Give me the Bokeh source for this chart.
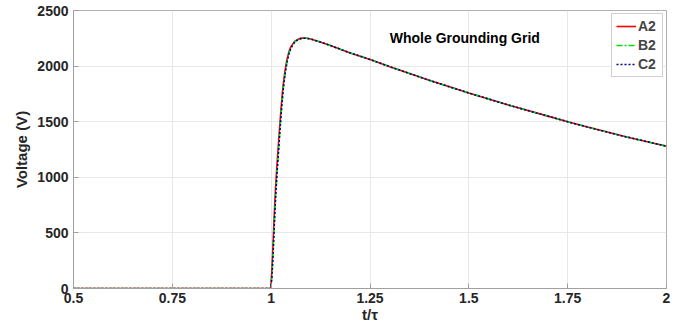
from bokeh.plotting import figure
from bokeh.models import FixedTicker, Label, Legend, LegendItem
from bokeh.embed import file_html
from bokeh.resources import INLINE

# Time (normalized t/tau)
t_vals = [0.5, 0.75, 0.999, 1.002, 1.005, 1.008, 1.011, 1.015, 1.02, 1.025, 1.03, 1.035,
          1.04, 1.045, 1.05, 1.06, 1.07, 1.08, 1.09, 1.1, 1.12, 1.15, 1.2, 1.25, 1.3, 1.4,
          1.5, 1.6, 1.7, 1.75, 1.8, 1.9, 2.0]
a2_vals = [0, 0, 0, 180, 420, 680, 900, 1130, 1380, 1620, 1820, 1960,
           2060, 2130, 2175, 2225, 2245, 2252, 2250, 2243, 2222, 2185, 2118, 2060, 1995, 1872,
           1758, 1650, 1550, 1500, 1452, 1362, 1280]
b2_vals = [0, 0, 0, 120, 340, 590, 820, 1060, 1320, 1570, 1780, 1930,
           2040, 2115, 2165, 2220, 2243, 2252, 2250, 2243, 2222, 2185, 2118, 2060, 1995, 1872,
           1758, 1650, 1550, 1500, 1452, 1362, 1280]
c2_vals = [0, 0, 0, 110, 330, 580, 810, 1050, 1310, 1560, 1775, 1925,
           2035, 2112, 2163, 2219, 2243, 2252, 2250, 2243, 2222, 2185, 2118, 2060, 1995, 1872,
           1758, 1650, 1550, 1500, 1452, 1362, 1280]

x_ticks = [0.5, 0.75, 1, 1.25, 1.5, 1.75, 2]
x_tick_labels = ["0.5", "0.75", "1", "1.25", "1.5", "1.75", "2"]
y_ticks = [0, 500, 1000, 1500, 2000, 2500]
series_names = ["A2", "B2", "C2"]
title_text = "Whole Grounding Grid"

FONT = "Liberation Sans"

p = figure(width=698, height=325, x_range=(0.5, 2), y_range=(0, 2500),
           output_backend="svg", toolbar_location=None,
           min_border_left=73, min_border_right=32, min_border_top=10, min_border_bottom=37)

p.background_fill_color = "white"
p.border_fill_color = "white"
p.outline_line_color = "#b0b0b0"
p.outline_line_width = 1

r1 = p.line(t_vals, a2_vals, line_color="#ff0000", line_width=1.6)
r2 = p.line(t_vals, b2_vals, line_color="#00e000", line_width=1.6, line_dash="6 2 2 2")
r3 = p.line(t_vals, c2_vals, line_color="#00008b", line_width=1.6, line_dash="2 2")

p.xaxis.ticker = FixedTicker(ticks=x_ticks)
p.xaxis.major_label_overrides = {k: v for k, v in zip(x_ticks, x_tick_labels)}
p.yaxis.ticker = FixedTicker(ticks=y_ticks)

for ax in [p.xaxis[0], p.yaxis[0]]:
    ax.axis_line_color = "#a0a0a0"
    ax.major_tick_line_color = "#a0a0a0"
    ax.major_tick_in = 5
    ax.major_tick_out = 0
    ax.minor_tick_line_color = None
    ax.major_label_text_font = FONT
    ax.major_label_text_font_style = "bold"
    ax.major_label_text_font_size = "14px"
    ax.major_label_text_color = "#262626"
    ax.axis_label_text_font = FONT
    ax.axis_label_text_font_style = "bold"
    ax.axis_label_text_font_size = "15px"
    ax.axis_label_text_color = "#262626"

p.xaxis.axis_label = "t/τ"
p.yaxis.axis_label = "Voltage (V)"
p.xaxis.major_label_standoff = 4
p.xaxis.axis_label_standoff = 0
p.yaxis.major_label_standoff = 5
p.yaxis.axis_label_standoff = 4

p.xgrid.grid_line_color = "#e8e8e8"
p.ygrid.grid_line_color = "#e8e8e8"
p.xgrid.ticker = FixedTicker(ticks=x_ticks)
p.ygrid.ticker = FixedTicker(ticks=y_ticks)

lbl = Label(x=1.30, y=2257, text=title_text, text_font=FONT, text_font_style="bold",
            text_font_size="14px", text_baseline="middle", text_align="left", text_color="black")
p.add_layout(lbl)

legend = Legend(items=[LegendItem(label=series_names[0], renderers=[r1]),
                       LegendItem(label=series_names[1], renderers=[r2]),
                       LegendItem(label=series_names[2], renderers=[r3])],
                location="top_right")
legend.label_text_font = FONT
legend.label_text_font_style = "bold"
legend.label_text_font_size = "14px"
legend.border_line_color = "#a0a0a0"
legend.glyph_width = 20
legend.glyph_height = 16
legend.label_height = 16
legend.label_standoff = 2
legend.spacing = 3
legend.padding = 4
legend.margin = 3
legend.background_fill_alpha = 1
p.add_layout(legend)

open("out.html", "w").write(file_html(p, INLINE))
